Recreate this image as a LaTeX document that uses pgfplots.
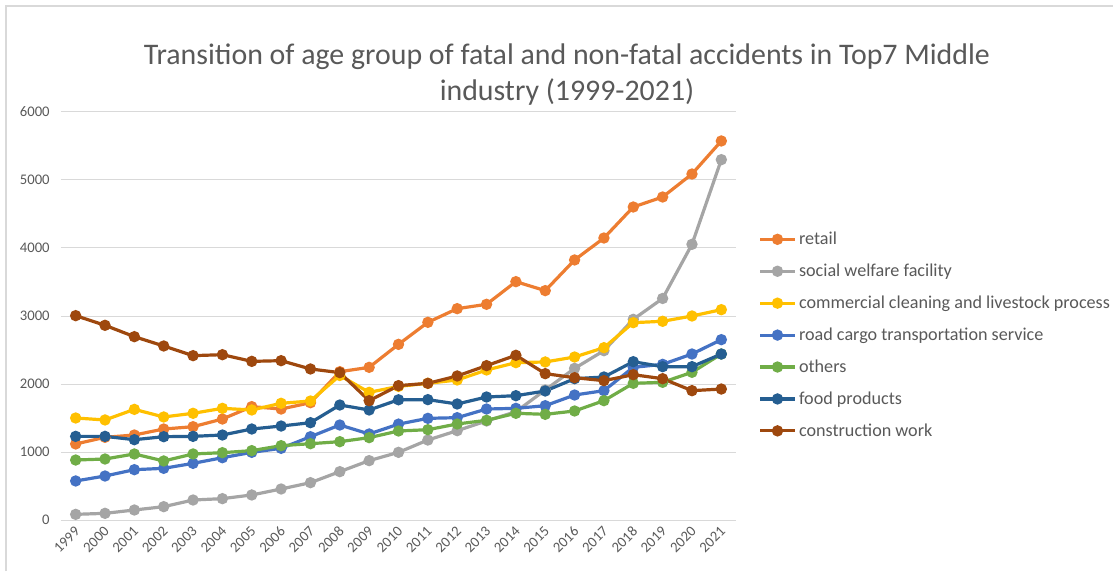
\documentclass[border=0pt]{standalone}
\usepackage{pgfplots}
\pgfplotsset{compat=1.18}
\usepackage{fontspec}
\setmainfont{Carlito}
\definecolor{cRetail}{HTML}{ED7D31}
\definecolor{cSocial}{HTML}{A5A5A5}
\definecolor{cClean}{HTML}{FFC000}
\definecolor{cRoad}{HTML}{4472C4}
\definecolor{cOther}{HTML}{70AD47}
\definecolor{cFood}{HTML}{255E91}
\definecolor{cCons}{HTML}{9E480E}
\definecolor{txt}{HTML}{595959}
\definecolor{gridc}{HTML}{D9D9D9}
\newcommand{\tickfont}{\fontsize{11}{13}\selectfont}
\begin{document}
\begin{tikzpicture}
\path[use as bounding box] (-45.75pt,-38.25pt) rectangle (789pt,390pt);
\draw[gridc, line width=1.1pt] (-41.25pt,-38.25pt) -- (-41.25pt,385.5pt) -- (789pt,385.5pt);
\begin{axis}[
  at={(0,0)}, anchor=south west,
  scale only axis, width=506.25pt, height=306pt,
  xmin=-0.5, xmax=22.5, ymin=0, ymax=6000,
  xtick={0,...,22},
  xticklabels={1999,2000,2001,2002,2003,2004,2005,2006,2007,2008,2009,2010,2011,2012,2013,2014,2015,2016,2017,2018,2019,2020,2021},
  ytick={0,1000,...,6000},
  yticklabels={0,1000,2000,3000,4000,5000,6000},
  axis line style={draw=none},
  major tick length=0pt,
  ymajorgrids=true, xmajorgrids=false,
  major grid style={draw=gridc, line width=0.75pt},
  xticklabel style={font=\tickfont, text=txt, xshift=2pt, yshift=-6pt, rotate=45, anchor=east, inner sep=1pt},
  yticklabel style={font=\tickfont, text=txt, xshift=-5pt},
  every axis plot/.append style={line width=2.4pt, mark=*, mark size=3pt},
  legend style={draw=none, at={(1.033,0.713)}, anchor=north west,
    font=\fontsize{13.6}{15}\selectfont, text=txt, row sep=9pt, inner sep=0pt},
  legend cell align=left,
  legend image code/.code={\draw[mark repeat=2,mark phase=2] plot coordinates {(0pt,0pt) (13pt,0pt) (26pt,0pt)};},
]
\addplot[cRetail, mark options={fill=cRetail}] coordinates {(0,1118)(1,1216)(2,1250)(3,1338)(4,1372)(5,1485)(6,1667)(7,1632)(8,1725)(9,2181)(10,2245)(11,2583)(12,2907)(13,3108)(14,3172)(15,3505)(16,3373)(17,3824)(18,4147)(19,4603)(20,4750)(21,5088)(22,5574)};
\addlegendentry{retail}
\addplot[cSocial, mark options={fill=cSocial}] coordinates {(0,83)(1,98)(2,147)(3,196)(4,294)(5,314)(6,368)(7,456)(8,549)(9,711)(10,873)(11,995)(12,1176)(13,1314)(14,1456)(15,1593)(16,1912)(17,2230)(18,2490)(19,2951)(20,3258)(21,4054)(22,5299)};
\addlegendentry{social welfare facility}
\addplot[cClean, mark options={fill=cClean}] coordinates {(0,1500)(1,1471)(2,1627)(3,1515)(4,1569)(5,1642)(6,1618)(7,1716)(8,1750)(9,2125)(10,1877)(11,1965)(12,2010)(13,2059)(14,2206)(15,2314)(16,2324)(17,2397)(18,2534)(19,2902)(20,2922)(21,3000)(22,3093)};
\addlegendentry{commercial cleaning and livestock process}
\addplot[cRoad, mark options={fill=cRoad}] coordinates {(0,574)(1,647)(2,740)(3,760)(4,833)(5,916)(6,995)(7,1054)(8,1225)(9,1397)(10,1265)(11,1410)(12,1495)(13,1505)(14,1632)(15,1642)(16,1681)(17,1838)(18,1902)(19,2245)(20,2289)(21,2441)(22,2652)};
\addlegendentry{road cargo transportation service}
\addplot[cOther, mark options={fill=cOther}] coordinates {(0,882)(1,897)(2,971)(3,868)(4,971)(5,990)(6,1020)(7,1093)(8,1122)(9,1152)(10,1211)(11,1309)(12,1328)(13,1412)(14,1466)(15,1569)(16,1554)(17,1603)(18,1755)(19,2010)(20,2025)(21,2172)(22,2441)};
\addlegendentry{others}
\addplot[cFood, mark options={fill=cFood}] coordinates {(0,1230)(1,1230)(2,1181)(3,1225)(4,1230)(5,1250)(6,1338)(7,1382)(8,1431)(9,1691)(10,1618)(11,1768)(12,1770)(13,1706)(14,1809)(15,1828)(16,1897)(17,2078)(18,2103)(19,2328)(20,2255)(21,2255)(22,2441)};
\addlegendentry{food products}
\addplot[cCons, mark options={fill=cCons}] coordinates {(0,3005)(1,2863)(2,2696)(3,2559)(4,2417)(5,2431)(6,2333)(7,2343)(8,2221)(9,2167)(10,1755)(11,1976)(12,2010)(13,2118)(14,2270)(15,2422)(16,2152)(17,2093)(18,2049)(19,2137)(20,2078)(21,1902)(22,1926)};
\addlegendentry{construction work}
\end{axis}
\node[text=txt, font=\fontsize{22.4}{27}\selectfont, align=center] at (379.5pt,334pt) {Transition of age group of fatal and non-fatal accidents in Top7 Middle\\industry (1999-2021)};
\end{tikzpicture}
\end{document}
